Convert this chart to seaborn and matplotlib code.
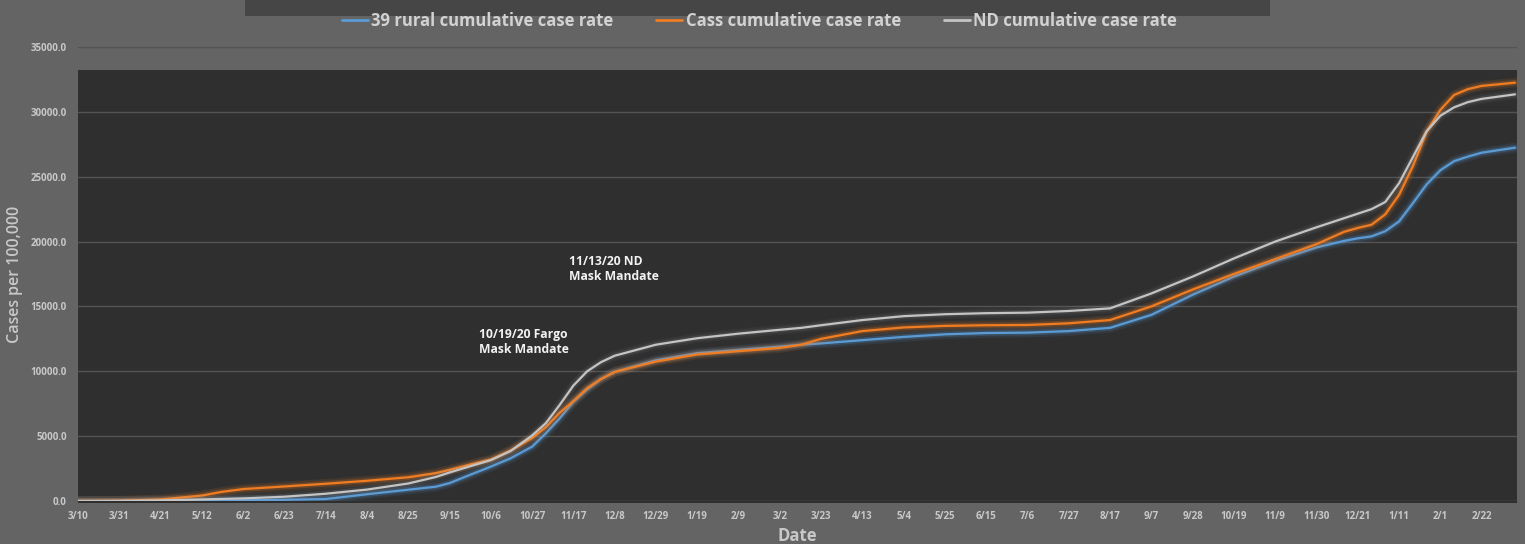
import matplotlib
matplotlib.use("Agg")
import matplotlib.pyplot as plt
import matplotlib.patheffects as pe
from matplotlib.patches import Rectangle
from matplotlib.lines import Line2D
import seaborn as sns
import pandas as pd

# ---------------- data ----------------
dates = [
    "2020-03-10", "2020-03-31", "2020-04-21", "2020-05-12", "2020-05-22", "2020-06-02",
    "2020-06-23", "2020-07-14", "2020-08-04", "2020-08-25", "2020-09-08", "2020-09-15",
    "2020-09-26", "2020-10-06", "2020-10-16", "2020-10-27", "2020-11-03", "2020-11-10",
    "2020-11-17", "2020-11-24", "2020-12-01", "2020-12-08", "2020-12-29", "2021-01-19",
    "2021-02-09", "2021-03-02", "2021-03-13", "2021-03-23", "2021-04-13", "2021-05-04",
    "2021-05-25", "2021-06-15", "2021-07-06", "2021-07-27", "2021-08-17", "2021-09-07",
    "2021-09-28", "2021-10-19", "2021-11-09", "2021-11-30", "2021-12-14", "2021-12-21",
    "2021-12-28", "2022-01-04", "2022-01-11", "2022-01-18", "2022-01-25", "2022-02-01",
    "2022-02-08", "2022-02-15", "2022-02-22", "2022-03-11",
]
rural = [
    0, 0, 10, 30, 40, 60, 90, 150, 520, 870, 1100, 1380,
    2050, 2650, 3290, 4190, 5220, 6370, 7650, 8600, 9400, 9950, 10850, 11400,
    11650, 11900, 12050, 12150, 12400, 12650, 12850, 12950, 12980, 13100, 13350, 14350,
    15900, 17300, 18500, 19550, 20050, 20250, 20400, 20800, 21550, 22950, 24400, 25500,
    26200, 26550, 26850, 27240,
]
cass = [
    0, 20, 120, 420, 700, 920, 1120, 1330, 1560, 1830, 2150, 2400,
    2830, 3200, 3880, 4850, 5700, 6800, 7700, 8700, 9400, 9950, 10750, 11300,
    11550, 11800, 12050, 12500, 13100, 13380, 13500, 13550, 13570, 13700, 13950, 15000,
    16300, 17500, 18650, 19800, 20750, 21050, 21300, 22100, 23600, 25800, 28450, 30150,
    31300, 31750, 32000, 32250,
]
nd = [
    0, 10, 50, 120, 160, 200, 330, 560, 880, 1350, 1850, 2200,
    2700, 3150, 3850, 5050, 6000, 7400, 8900, 10000, 10700, 11200, 12050, 12550,
    12900, 13200, 13350, 13550, 13950, 14250, 14400, 14480, 14520, 14650, 14850, 16000,
    17300, 18700, 20000, 21100, 21800, 22150, 22500, 23050, 24500, 26500, 28500, 29700,
    30350, 30750, 31000, 31350,
]
series_names = ["39 rural cumulative case rate", "Cass cumulative case rate", "ND cumulative case rate"]
x_tick_labels = [
    "3/10", "3/31", "4/21", "5/12", "6/2", "6/23", "7/14", "8/4", "8/25", "9/15",
    "10/6", "10/27", "11/17", "12/8", "12/29", "1/19", "2/9", "3/2", "3/23", "4/13",
    "5/4", "5/25", "6/15", "7/6", "7/27", "8/17", "9/7", "9/28", "10/19", "11/9",
    "11/30", "12/21", "1/11", "2/1", "2/22",
]
y_ticks = [0, 5000, 10000, 15000, 20000, 25000, 30000, 35000]
y_tick_labels = ["0.0", "5000.0", "10000.0", "15000.0", "20000.0", "25000.0", "30000.0", "35000.0"]
annotations = ["10/19/20 Fargo\nMask Mandate", "11/13/20 ND\nMask Mandate"]

# ---------------- style ----------------
sns.set_theme(style="dark")
plt.rcParams['font.family'] = ['Open Sans', 'DejaVu Sans']

BG = "#646464"
DARK = "#2f2f2f"
TXT = "#c8c8c8"
colors = ["#5b9bd5", "#f07d22", "#c4c4c4"]
glow_alpha = [0.22, 0.22, 0.10]

W, H = 1525, 544
fig = plt.figure(figsize=(W / 100, H / 100), dpi=100, facecolor=BG)
ax = fig.add_axes([78 / W, 43 / H, 1439 / W, 454 / H])
ax.set_facecolor(BG)

# top dark banner
fig.patches.append(Rectangle((245 / W, 1 - 16 / H), (1270 - 245) / W, 16 / H,
                             transform=fig.transFigure, facecolor="#464646",
                             edgecolor="none", zorder=0))
# dark plot area
ax.add_patch(Rectangle((0, -0.004), 1, 0.953, transform=ax.transAxes,
                       facecolor=DARK, edgecolor="none", zorder=0.5, clip_on=False))

df = pd.DataFrame({"date": pd.to_datetime(dates), series_names[0]: rural,
                   series_names[1]: cass, series_names[2]: nd})
long = df.melt(id_vars="date", var_name="series", value_name="value")
sns.lineplot(data=long, x="date", y="value", hue="series", hue_order=series_names,
             palette=colors, linewidth=1.6, legend=False, ax=ax, zorder=3)

for line, c, ga in zip(ax.lines, colors, glow_alpha):
    line.set_path_effects([
        pe.Stroke(linewidth=7, foreground=c, alpha=ga * 0.5),
        pe.Stroke(linewidth=4, foreground=c, alpha=ga),
        pe.Normal(),
    ])

ax.set_ylim(0, 35000)
ax.set_xlim(pd.Timestamp("2020-03-10"), pd.Timestamp("2022-03-12"))
tick_dates = pd.date_range("2020-03-10", periods=len(x_tick_labels), freq="21D")
ax.set_xticks(tick_dates)
ax.set_xticklabels(x_tick_labels, fontsize=7, fontweight="bold", color=TXT)
ax.set_yticks(y_ticks)
ax.set_yticklabels(y_tick_labels, fontsize=7, fontweight="bold", color=TXT)
ax.tick_params(axis="both", length=0)
ax.tick_params(axis="x", pad=7)
ax.tick_params(axis="y", pad=8)

ax.set_axisbelow("line")
ax.yaxis.grid(True, color="#535353", linewidth=1)
ax.xaxis.grid(False)
for s in ax.spines.values():
    s.set_visible(False)

ax.set_xlabel("Date", fontsize=12, fontweight="bold", color=TXT, labelpad=4)
ax.set_ylabel("Cases per 100,000", fontsize=11.5, fontweight="semibold", color=TXT)
ax.yaxis.set_label_coords(-0.038, 0.5)

ax.text(pd.Timestamp("2020-09-30"), 13350, annotations[0], color="#f2f2f2",
        fontsize=8.7, fontweight="bold", ha="left", va="top", linespacing=1.2, zorder=4)
ax.text(pd.Timestamp("2020-11-15"), 19000, annotations[1], color="#f2f2f2",
        fontsize=8.7, fontweight="bold", ha="left", va="top", linespacing=1.2, zorder=4)

handles = [Line2D([0], [0], color=c, linewidth=2) for c in colors]
leg = fig.legend(handles, series_names, loc="center", bbox_to_anchor=(0.498, 1 - 21 / H),
                 ncol=3, frameon=False, handlelength=1.55, handletextpad=0.2,
                 columnspacing=2.6, prop=dict(weight="bold", size=12))
for t in leg.get_texts():
    t.set_color("#d2d2d2")

fig.savefig("out.png", dpi=100, facecolor=BG)
